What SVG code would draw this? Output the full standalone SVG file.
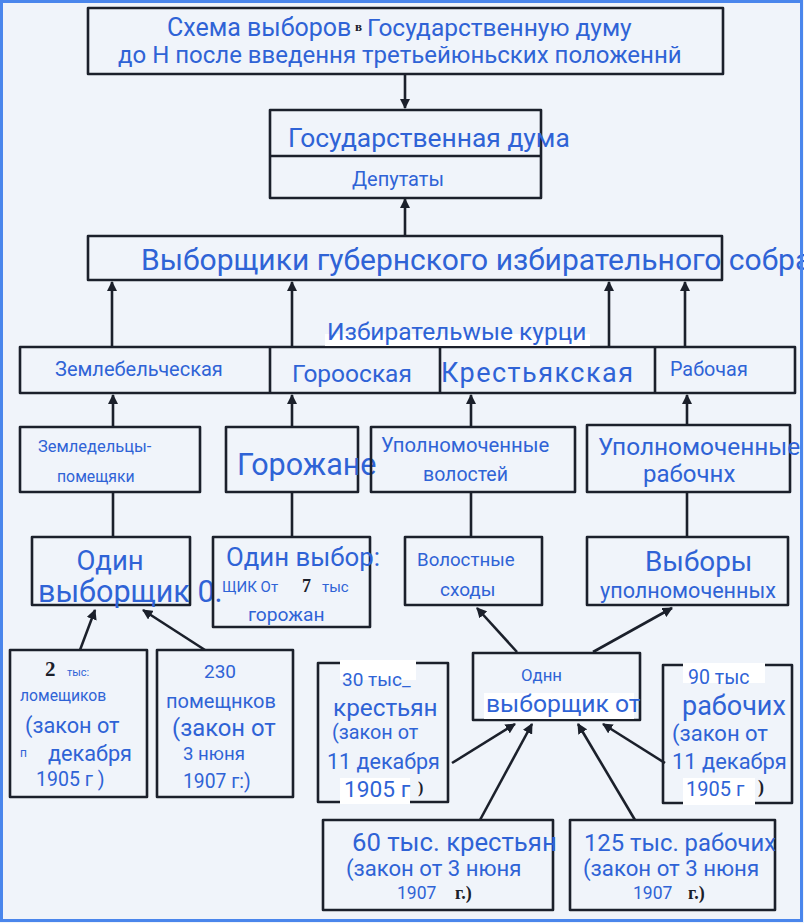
<svg xmlns="http://www.w3.org/2000/svg" width="804" height="923" viewBox="0 0 804 923">
<style>
.b{fill:none;stroke:#1b202b;stroke-width:2.6;stroke-linejoin:round}
.c{fill:none;stroke:#1b202b;stroke-width:2.6}
.t{font-family:Roboto,"Liberation Sans",sans-serif;fill:#2f63d6}
.k{font-family:"Liberation Serif",serif;font-weight:bold;fill:#1b202b}
.w{fill:#ffffff}
</style>
<defs>
<marker id="ah" viewBox="0 0 10 10" refX="9" refY="5" markerWidth="4" markerHeight="4" orient="auto" markerUnits="strokeWidth">
<path d="M0,0 L10,5 L0,10 Z" fill="#1b202b"/>
</marker>
</defs>
<rect x="0" y="0" width="804" height="923" fill="#f0f4fa"/>

<g id="connectors">
<line class="c" x1="405" y1="74" x2="405" y2="108" marker-end="url(#ah)"/>
<line class="c" x1="405" y1="236" x2="405" y2="199" marker-end="url(#ah)"/>
<line class="c" x1="112" y1="347" x2="112" y2="282" marker-end="url(#ah)"/>
<line class="c" x1="292" y1="347" x2="292" y2="282" marker-end="url(#ah)"/>
<line class="c" x1="609" y1="347" x2="609" y2="282" marker-end="url(#ah)"/>
<line class="c" x1="685" y1="347" x2="685" y2="282" marker-end="url(#ah)"/>
<line class="c" x1="113" y1="427" x2="113" y2="395" marker-end="url(#ah)"/>
<line class="c" x1="292" y1="427" x2="292" y2="395" marker-end="url(#ah)"/>
<line class="c" x1="471" y1="427" x2="471" y2="395" marker-end="url(#ah)"/>
<line class="c" x1="687" y1="425" x2="687" y2="395" marker-end="url(#ah)"/>
<line class="c" x1="113" y1="537" x2="113" y2="492"/>
<line class="c" x1="292" y1="537" x2="292" y2="492"/>
<line class="c" x1="471" y1="537" x2="471" y2="492"/>
<line class="c" x1="687" y1="537" x2="687" y2="492"/>
<line class="c" x1="80" y1="650" x2="95" y2="610" marker-end="url(#ah)"/>
<line class="c" x1="205" y1="650" x2="143" y2="610" marker-end="url(#ah)"/>
<line class="c" x1="517" y1="652" x2="477" y2="608" marker-end="url(#ah)"/>
<line class="c" x1="593" y1="652" x2="672" y2="608" marker-end="url(#ah)"/>
<line class="c" x1="452" y1="763" x2="515" y2="724" marker-end="url(#ah)"/>
<line class="c" x1="480" y1="820" x2="532" y2="724" marker-end="url(#ah)"/>
<line class="c" x1="635" y1="820" x2="578" y2="724" marker-end="url(#ah)"/>
<line class="c" x1="665" y1="763" x2="603" y2="724" marker-end="url(#ah)"/>
</g>

<g id="title">
<rect class="b" x="88" y="8" width="635" height="66"/>
<text class="t" x="167" y="36" font-size="25">Схема выборов</text>
<text class="k" x="355" y="31" font-size="13">в</text>
<text class="t" x="367" y="36" font-size="24.5">Государственную думу</text>
<text class="t" x="118" y="63" font-size="24">до Н после введення третьейюньских положеннй</text>
</g>

<g id="duma">
<rect class="b" x="270" y="110" width="271" height="88"/>
<line class="c" x1="270" y1="156" x2="541" y2="156"/>
<text class="t" x="288" y="147" font-size="26.4">Государственная дума</text>
<text class="t" x="352" y="186" font-size="20">Депутаты</text>
</g>

<g id="vyborshchiki">
<rect class="b" x="88" y="236" width="634" height="44"/>
<text class="t" x="141" y="270" font-size="30">Выборщики губернского избирательного собрания</text>
</g>

<g id="kurii">
<rect class="b" x="20" y="347" width="775" height="46"/>
<line class="c" x1="270" y1="347" x2="270" y2="393"/>
<line class="c" x1="440" y1="347" x2="440" y2="393"/>
<line class="c" x1="655" y1="347" x2="655" y2="393"/>
<rect class="w" x="325" y="334" width="265" height="12"/>
<text class="t" x="327" y="340" font-size="24.5">Избирательwые курци</text>
<text class="t" x="55" y="376" font-size="20">Землебельческая</text>
<text class="t" x="292" y="382" font-size="24.5">Горооская</text>
<text class="t" x="441" y="382" font-size="27" textLength="192">Крестьякская</text>
<text class="t" x="670" y="376" font-size="19.8">Рабочая</text>
</g>

<g id="zemledeltsy">
<rect class="b" x="20" y="427" width="180" height="65"/>
<text class="t" x="38" y="452" font-size="16.5">Земледельцы-</text>
<text class="t" x="57" y="482" font-size="15.8">помещяки</text>
</g>

<g id="gorozhane">
<rect class="b" x="226" y="427" width="132" height="65"/>
<text class="t" x="237" y="475" font-size="30.5">Горожане</text>
</g>

<g id="upoln-volostey">
<rect class="b" x="371" y="427" width="204" height="65"/>
<text class="t" x="381" y="452" font-size="20.3">Уполномоченные</text>
<text class="t" x="423" y="481" font-size="19.5">волостей</text>
</g>

<g id="upoln-rabochikh">
<rect class="b" x="587" y="425" width="203" height="67"/>
<text class="t" x="598" y="455" font-size="24.4">Уполномоченные</text>
<text class="t" x="643" y="482" font-size="24">рабочнх</text>
</g>

<g id="odin-vyborshchik-1">
<rect class="b" x="32" y="537" width="158" height="68"/>
<text class="t" x="110" y="570" font-size="27.5" text-anchor="middle">Один</text>
<text class="t" x="38" y="602" font-size="30.5">выборщик 0.</text>
</g>

<g id="odin-vybor-2">
<rect class="b" x="213" y="537" width="157" height="90"/>
<text class="t" x="226" y="566" font-size="25.8">Один выбор:</text>
<text class="t" x="222" y="592" font-size="15">ЩИК От</text>
<text class="k" x="302" y="592" font-size="18">7</text>
<text class="t" x="322" y="592" font-size="15">тыс</text>
<text class="t" x="248" y="621" font-size="19.2">горожан</text>
</g>

<g id="volostnye-skhody">
<rect class="b" x="405" y="537" width="137" height="68"/>
<text class="t" x="417" y="566" font-size="18.7">Волостные</text>
<text class="t" x="440" y="596" font-size="19">сходы</text>
</g>

<g id="vybory-upoln">
<rect class="b" x="587" y="537" width="201" height="68"/>
<text class="t" x="645" y="571" font-size="27.8">Выборы</text>
<text class="t" x="600" y="598" font-size="21.6">уполномоченных</text>
</g>

<g id="pomeshchiki-1905">
<rect class="b" x="10" y="650" width="137" height="147"/>
<text class="k" x="45" y="676" font-size="21">2</text>
<text class="t" x="67" y="676" font-size="11">тыс:</text>
<text class="t" x="20" y="701" font-size="15.7">ломещиков</text>
<text class="t" x="25" y="733" font-size="21.7">(закон от</text>
<text class="t" x="20" y="757" font-size="12">п</text>
<text class="t" x="48" y="761" font-size="21.7">декабря</text>
<text class="t" x="36" y="786" font-size="19.5">1905 г )</text>
</g>

<g id="pomeshchiki-1907">
<rect class="b" x="157" y="650" width="136" height="147"/>
<text class="t" x="204" y="678" font-size="19">230</text>
<text class="t" x="166" y="708" font-size="20">помещнков</text>
<text class="t" x="172" y="736" font-size="23.8">(закон от</text>
<text class="t" x="183" y="760" font-size="18.6">3 нюня</text>
<text class="t" x="183" y="788" font-size="19.3">1907 г:)</text>
</g>

<g id="krestyane-1905">
<rect class="b" x="318" y="663" width="130" height="139"/>
<rect class="w" x="340" y="660" width="76" height="20"/>
<rect class="w" x="340" y="778" width="70" height="26"/>
<text class="t" x="342" y="686" font-size="19">30 тыс_</text>
<text class="t" x="333" y="716" font-size="24.3">крестьян</text>
<text class="t" x="332" y="739" font-size="19.8">(закон от</text>
<text class="t" x="327" y="769" font-size="21.5">11 декабря</text>
<text class="t" x="344" y="797" font-size="22.7">1905 г</text>
<text class="k" x="418" y="793" font-size="16">)</text>
</g>

<g id="odin-vyborshchik-ot">
<rect class="b" x="473" y="653" width="167" height="67"/>
<rect class="w" x="484" y="693" width="150" height="26"/>
<text class="t" x="521" y="681" font-size="16.8">Однн</text>
<text class="t" x="486" y="712" font-size="24.7">выборщик от</text>
</g>

<g id="rabochie-1905">
<rect class="b" x="663" y="665" width="129" height="138"/>
<rect class="w" x="683" y="663" width="82" height="20"/>
<rect class="w" x="683" y="778" width="72" height="27"/>
<text class="t" x="688" y="684" font-size="19.5">90 тыс</text>
<text class="t" x="682" y="715" font-size="27">рабочих</text>
<text class="t" x="672" y="741" font-size="22">(закон от</text>
<text class="t" x="672" y="769" font-size="21.9">11 декабря</text>
<text class="t" x="686" y="796" font-size="20">1905 г</text>
<text class="k" x="758" y="793" font-size="18">)</text>
</g>

<g id="krestyane-1907">
<rect class="b" x="323" y="820" width="230" height="90"/>
<text class="t" x="352" y="851" font-size="25.7">60 тыс. крестьян</text>
<text class="t" x="346" y="876" font-size="22.1">(закон от 3 нюня</text>
<text class="t" x="397" y="899" font-size="17.5">1907</text>
<text class="k" x="455" y="899" font-size="18">г.)</text>
</g>

<g id="rabochie-1907">
<rect class="b" x="570" y="820" width="205" height="90"/>
<text class="t" x="584" y="851" font-size="23.8">125 тыс. рабочих</text>
<text class="t" x="583" y="876" font-size="22.2">(закон от 3 нюня</text>
<text class="t" x="633" y="899" font-size="17.5">1907</text>
<text class="k" x="688" y="899" font-size="18">г.)</text>
</g>

<rect x="1.5" y="1.5" width="800" height="919" fill="none" stroke="#4a86ec" stroke-width="3"/>
</svg>
